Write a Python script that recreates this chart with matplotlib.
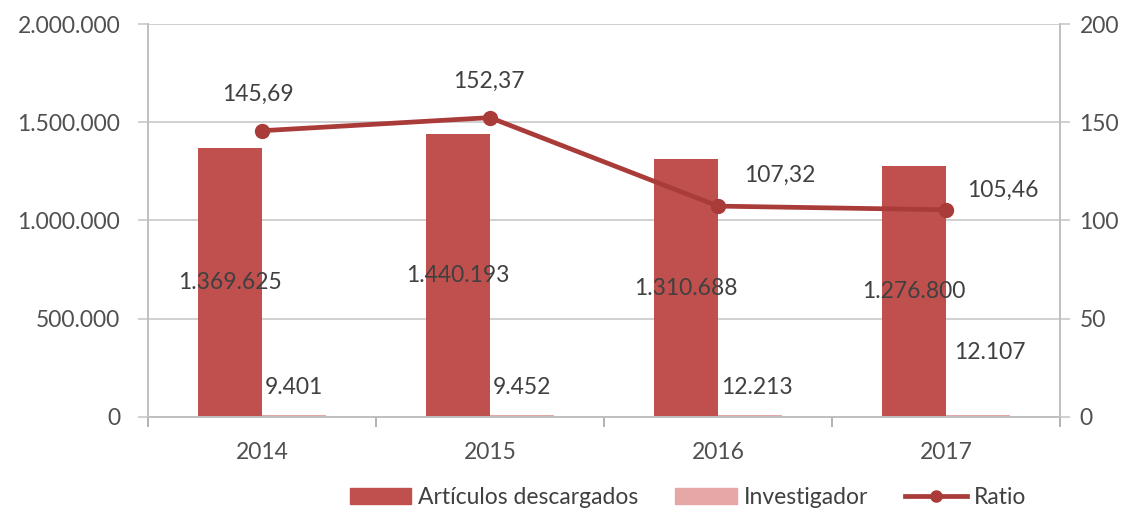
import numpy as np
import matplotlib.pyplot as plt
from matplotlib.patches import Patch
from matplotlib.lines import Line2D
from matplotlib.ticker import FuncFormatter

# data
years = ['2014', '2015', '2016', '2017']
articulos = [1369625, 1440193, 1310688, 1276800]
investigador = [9401, 9452, 12213, 12107]
ratio = [145.69, 152.37, 107.32, 105.46]

# label text (Spanish number format)
articulos_txt = ['1.369.625', '1.440.193', '1.310.688', '1.276.800']
investigador_txt = ['9.401', '9.452', '12.213', '12.107']
ratio_txt = ['145,69', '152,37', '107,32', '105,46']

plt.rcParams['font.family'] = ['Lato', 'DejaVu Sans']
fs = 16.5
grey = '#505050'
c_art = '#C0504D'
c_inv = '#E6A8A7'
c_ratio = '#A93B39'

fig = plt.figure(figsize=(11.37, 5.23), dpi=100)
ax = fig.add_axes([0.1302, 0.2027, 0.8021, 0.7514])
ax2 = ax.twinx()

x = np.arange(len(years))
w = 0.28
ax.bar(x - w/2, articulos, w, color=c_art, zorder=2)
ax.bar(x + w/2, investigador, w, color=c_inv, zorder=2)

ax.set_xlim(-0.5, 3.5)
ax.set_ylim(0, 2000000)
ax.set_yticks(np.arange(0, 2000001, 500000))
ax.yaxis.set_major_formatter(FuncFormatter(lambda v, p: f'{int(v):,}'.replace(',', '.')))
ax.grid(axis='y', color='#C8C8C8', lw=1.2, zorder=0)
ax.set_axisbelow(True)

ax.set_xticks(x)
ax.set_xticklabels(years)
ax.set_xticks(np.arange(-0.5, 3.6, 1), minor=True)
ax.tick_params(axis='x', which='major', length=0, pad=18, labelsize=fs, labelcolor=grey)
ax.tick_params(axis='x', which='minor', length=7, color='#A6A6A6', width=1.2)
ax.tick_params(axis='y', length=7, color='#C8C8C8', width=1.2, pad=13, labelsize=fs, labelcolor=grey)

# ratio line on secondary axis
ax2.plot(x, ratio, color=c_ratio, lw=3.4, marker='o', ms=10, zorder=3)
ax2.set_ylim(0, 200)
ax2.set_yticks(np.arange(0, 201, 50))
ax2.tick_params(axis='y', length=7, color='#C8C8C8', width=1.2, pad=7, labelsize=fs, labelcolor=grey)

for a in (ax, ax2):
    a.spines['top'].set_visible(False)
    for s in ('left', 'right', 'bottom'):
        a.spines[s].set_color('#BFBFBF')
        a.spines[s].set_linewidth(1.2)

# data labels
for i in range(len(years)):
    ax.text(x[i] - w/2, articulos[i] / 2, articulos_txt[i], ha='center', va='center',
            fontsize=fs, color='#404040', zorder=5)

inv_label_y = [150000, 150000, 150000, 330000]
inv_dx = [0, 0, 7, 12]
for i in range(len(years)):
    ax.annotate(investigador_txt[i], (x[i] + w/2, inv_label_y[i]), xytext=(inv_dx[i], 0),
                textcoords='offset pixels', ha='center', va='center',
                fontsize=fs, color='#404040', zorder=5)

ratio_off = [(-4, 36), (-1, 36), (62, 31), (57, 19)]
for i in range(len(years)):
    ax2.annotate(ratio_txt[i], (x[i], ratio[i]), xytext=ratio_off[i],
                 textcoords='offset pixels', ha='center', va='center',
                 fontsize=fs, color='#404040')

handles = [Patch(color=c_art), Patch(color=c_inv),
           Line2D([], [], color=c_ratio, lw=3.4, marker='o', ms=8)]
fig.legend(handles, ['Artículos descargados', 'Investigador', 'Ratio'],
           loc='center', bbox_to_anchor=(0.605, 0.048), ncol=3, frameon=False,
           fontsize=fs, handlelength=2.7, handleheight=0.7, handletextpad=0.3,
           columnspacing=1.6, labelcolor='#404040')

fig.savefig('out.png', dpi=100)
